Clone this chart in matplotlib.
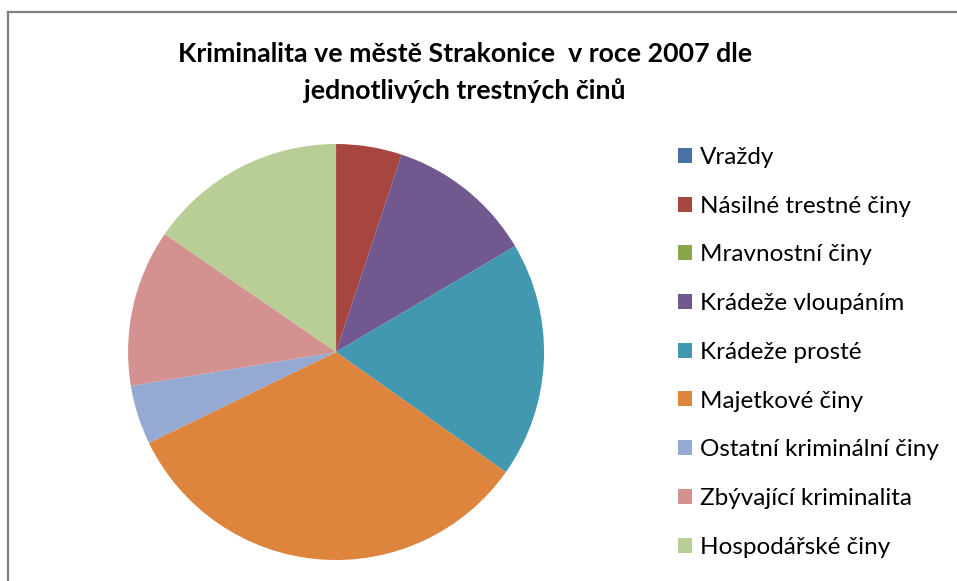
import matplotlib.pyplot as plt
from matplotlib.lines import Line2D

categories = ['Vraždy', 'Násilné trestné činy', 'Mravnostní činy', 'Krádeže vloupáním',
              'Krádeže prosté', 'Majetkové činy', 'Ostatní kriminální činy',
              'Zbývající kriminalita', 'Hospodářské činy']
shares = [0.0, 5.1, 0.0, 11.4, 18.3, 33.0, 4.6, 12.2, 15.4]
colors = ['#4672A8', '#A7463F', '#8BA64A', '#71588F', '#4298B0',
          '#DD843D', '#94AAD3', '#D39290', '#B9CD96']

title = 'Kriminalita ve městě Strakonice  v roce 2007 dle\njednotlivých trestných činů'

plt.rcParams['font.family'] = ['Lato', 'DejaVu Sans']

fig = plt.figure(figsize=(9.57, 5.81), dpi=100)
ax = fig.add_axes([0.1338, 0.0361, 0.4347, 0.716])
wedges, _ = ax.pie(shares, colors=colors, startangle=90, counterclock=False,
                   wedgeprops=dict(linewidth=0))
ax.set_xlim(-1, 1)
ax.set_ylim(-1, 1)
ax.set_aspect('equal')

fig.text(0.486, 0.876, title, ha='center', va='center', fontsize=19.3,
         fontweight='bold', linespacing=1.58)

fig.legend(wedges, categories, loc='upper left', bbox_to_anchor=(0.7085, 0.747),
           frameon=False, fontsize=17.5, labelspacing=1.14, handlelength=0.57,
           handleheight=0.57, handletextpad=0.33, borderpad=0, borderaxespad=0)

# frame on the left and top only
fig.add_artist(Line2D([8 / 957, 8 / 957], [0, 1 - 12 / 581], color='#808080', lw=1.6,
                      transform=fig.transFigure))
fig.add_artist(Line2D([8 / 957, 1], [1 - 12 / 581, 1 - 12 / 581], color='#808080', lw=1.6,
                      transform=fig.transFigure))

fig.savefig('out.png', dpi=100)
